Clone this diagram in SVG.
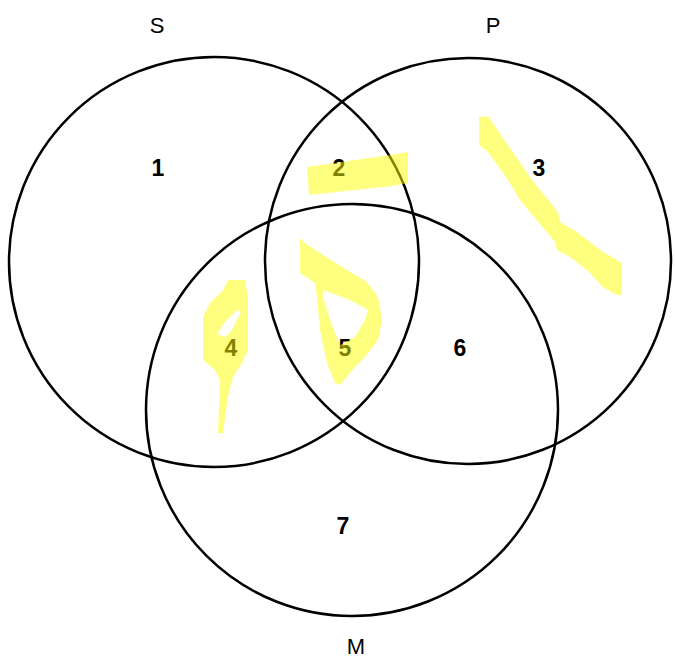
<svg xmlns="http://www.w3.org/2000/svg" width="675" height="659" viewBox="0 0 675 659">
<style>
.c{fill:none;stroke:#000;stroke-width:2.5}
.lbl{font-family:"Liberation Sans","Open Sans",sans-serif;font-size:22px;fill:#000;text-anchor:middle}
.num{font-family:"Liberation Sans","Open Sans",sans-serif;font-size:23px;font-weight:bold;fill:#000;text-anchor:middle}
.hl{fill:#ffff00;fill-opacity:0.5;fill-rule:evenodd}
</style>
<rect width="675" height="659" fill="#fff"/>
<g id="circle-S"><circle class="c" cx="214" cy="262" r="205"/><text class="lbl" x="157" y="33">S</text></g>
<g id="circle-P"><circle class="c" cx="468" cy="261" r="203"/><text class="lbl" x="493" y="33">P</text></g>
<g id="circle-M"><circle class="c" cx="352" cy="410" r="206"/><text class="lbl" x="356" y="654">M</text></g>
<g id="regions">
<text class="num" x="158" y="176">1</text>
<text class="num" x="339" y="176">2</text>
<text class="num" x="539" y="176">3</text>
<text class="num" x="231" y="356">4</text>
<text class="num" x="345" y="356">5</text>
<text class="num" x="460" y="356">6</text>
<text class="num" x="343" y="534">7</text>
</g>
<g id="highlights">
<path class="hl" d="M307,167 L390,155 L408,152 L408,183 L392,186 L309,195 Z"/>
<path class="hl" d="M479,117 L488,116 L503,138 L532,180 L550,202 L558,212 L560,222 L577,232 L603,252 L622,263 L622,295 L617,295 L603,287 L587,270 L570,257 L557,250 L555,242 L535,218 L520,200 L508,180 L488,152 L479,145 Z"/>
<path class="hl" d="M228,280 L245,280 L248,297 L248,350 L242,363 L233,377 L228,397 L223,433 L218,433 L220,380 L215,370 L203,360 L203,317 L210,303 L223,290 Z M237,310 L241,312 L232,330 L225,337 L217,334 L225,322 Z"/>
<path class="hl" d="M300,238 L305,243 L323,255 L347,270 L367,282 L378,297 L382,320 L378,340 L365,357 L355,367 L340,385 L335,383 L327,363 L320,330 L317,297 L315,283 L300,273 Z M323,290 L350,300 L368,310 L365,320 L355,337 L340,345 L330,320 L323,297 Z"/>
</g>
</svg>
